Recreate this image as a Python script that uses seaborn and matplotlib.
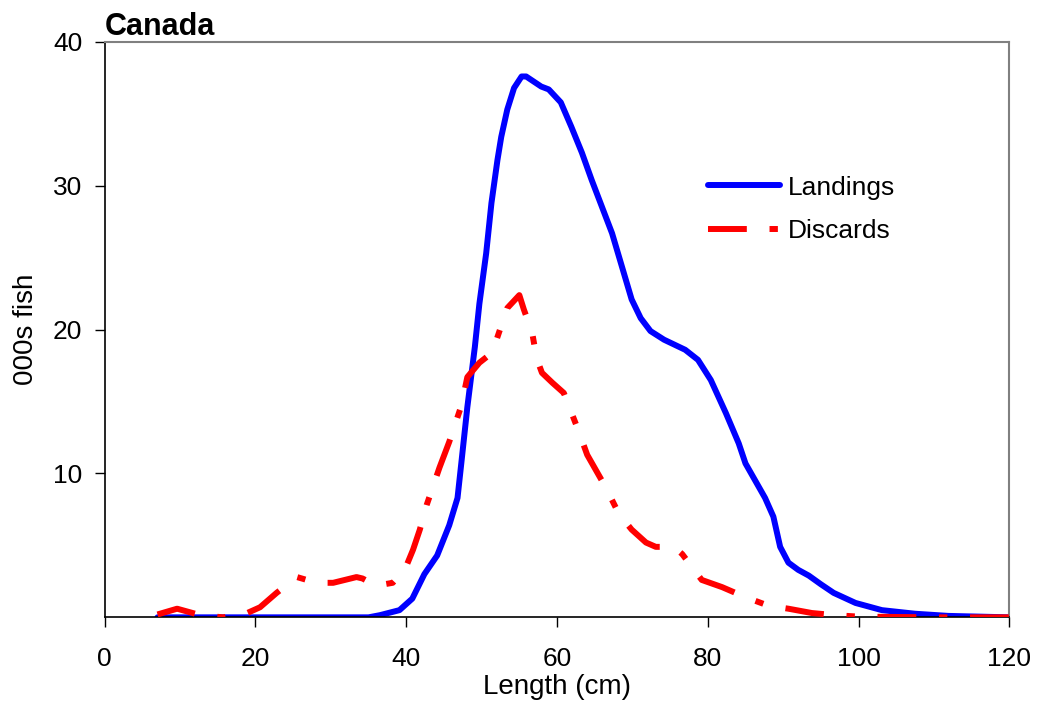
import matplotlib
matplotlib.use("Agg")
import matplotlib.pyplot as plt
import seaborn as sns

# Length distribution (cm, thousands of fish)
landings_len = [7, 15, 25, 35, 36.5, 39.1, 40.8, 42.4, 44.1, 45.7, 46.8, 47.3, 48.1, 49.1,
                49.7, 50.6, 51.3, 52.1, 52.6, 53.4, 54.3, 55.3, 55.9, 57.9, 58.9, 60.5,
                61.9, 63.3, 64.6, 67.3, 68.6, 69.9, 71.1, 72.4, 74.2, 77.0, 78.7, 80.4,
                82.4, 84.1, 85.0, 86.3, 87.6, 88.7, 89.6, 90.7, 92.0, 93.4, 95.0, 96.7,
                99.6, 103.1, 107.5, 111.9, 120]
landings_n = [0, 0, 0, 0, 0.15, 0.5, 1.3, 3.0, 4.3, 6.4, 8.3, 10.7, 14.6, 18.8,
              21.8, 25.3, 28.8, 31.8, 33.4, 35.3, 36.8, 37.6, 37.6, 36.9, 36.7, 35.8,
              34.1, 32.3, 30.4, 26.7, 24.4, 22.1, 20.8, 19.9, 19.3, 18.6, 17.9, 16.5,
              14.2, 12.1, 10.7, 9.5, 8.3, 7.0, 4.9, 3.8, 3.3, 2.9, 2.3, 1.7,
              1.0, 0.5, 0.25, 0.1, 0.0]

discards_len = [7.0, 9.6, 12.7, 15.7, 18.9, 20.6, 22.8, 25.5, 28.1, 30.3, 33.4, 34.2,
                36.0, 38.2, 39.8, 40.9, 41.8, 42.7, 44.4, 45.7, 47.3, 48.1, 49.7, 51.4,
                52.3, 53.4, 55.0, 55.6, 56.7, 57.3, 58.0, 59.4, 60.9, 62.9, 64.0, 66.5,
                68.2, 69.9, 71.8, 73.1, 75.5, 76.6, 77.9, 79.2, 81.9, 85.0, 88.1, 90.7,
                93.8, 96.9, 100, 110, 120]
discards_n = [0.2, 0.6, 0.15, 0.0, 0.3, 0.7, 1.7, 2.8, 2.4, 2.4, 2.8, 2.7,
              2.2, 2.4, 3.3, 4.7, 6.1, 7.8, 10.4, 12.2, 14.7, 16.7, 17.7, 18.4,
              19.8, 21.5, 22.4, 21.4, 19.8, 18.0, 17.0, 16.3, 15.6, 12.9, 11.3, 9.0,
              7.2, 6.1, 5.2, 4.9, 4.9, 4.4, 3.5, 2.6, 2.1, 1.4, 0.8, 0.6,
              0.3, 0.15, 0.05, 0.0, 0.0]

x_ticks = [0, 20, 40, 60, 80, 100, 120]
y_ticks = [10, 20, 30, 40]

sns.set_style("ticks")
plt.rcParams['font.family'] = ['Liberation Sans', 'DejaVu Sans']
plt.rcParams['text.color'] = 'black'
plt.rcParams['axes.labelcolor'] = 'black'
plt.rcParams['xtick.color'] = 'black'
plt.rcParams['ytick.color'] = 'black'

LW = 4.3
DASH = [6.5, 3.8, 1.4, 3.8]

fig = plt.figure(figsize=(10.37, 7.17), dpi=100)
ax = fig.add_axes([0.101, 0.139, 0.8723, 0.8025])

sns.lineplot(x=landings_len, y=landings_n, ax=ax, color="#0000ff", linewidth=LW,
             label="Landings", sort=False, zorder=2)
sns.lineplot(x=discards_len, y=discards_n, ax=ax, color="#ff0000", linewidth=LW,
             label="Discards", sort=False, zorder=3)
ax.lines[0].set_solid_joinstyle("round")
ax.lines[0].set_solid_capstyle("round")
ax.lines[1].set_dashes(DASH)

ax.set_xlim(0, 120)
ax.set_ylim(0, 40)
ax.set_xticks(x_ticks)
ax.set_yticks(y_ticks)
ax.tick_params(axis="both", labelsize=19, length=7.2, width=1.0, direction="out",
               color="black", labelcolor="black")
ax.tick_params(axis="x", pad=14)
ax.tick_params(axis="y", pad=9)

for side in ["left", "bottom"]:
    ax.spines[side].set_color("black")
    ax.spines[side].set_linewidth(1.2)
for side in ["top", "right"]:
    ax.spines[side].set_visible(True)
    ax.spines[side].set_color("#808080")
    ax.spines[side].set_linewidth(1.5)

ax.set_xlabel("Length (cm)", fontsize=20, labelpad=2, color="black")
ax.set_ylabel("000s fish", fontsize=20, labelpad=10, color="black")
ax.set_title("Canada", fontsize=22, fontweight="bold", loc="left", pad=4, x=0.0,
             color="black")

leg = ax.legend(loc="upper left", bbox_to_anchor=(0.655, 0.786), frameon=False,
                fontsize=19, handlelength=2.75, handletextpad=0.3,
                labelspacing=0.74, borderaxespad=0)
for h in leg.get_lines():
    h.set_linewidth(LW)
leg.get_lines()[0].set_solid_capstyle("round")
leg.get_lines()[1].set_dashes(DASH)
for t in leg.get_texts():
    t.set_color("black")

fig.savefig("out.png", dpi=100)
